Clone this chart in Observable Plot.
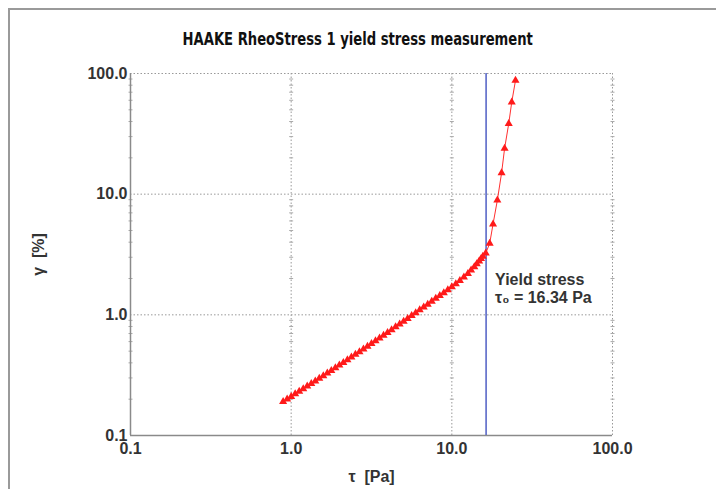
<!DOCTYPE html>
<html><head><meta charset="utf-8">
<script src="https://cdn.jsdelivr.net/npm/d3@7"></script>
<script src="https://cdn.jsdelivr.net/npm/@observablehq/plot@0.6"></script>
<style>
body{margin:0;background:#fff;}
#wrap{position:relative;width:716px;height:489px;overflow:hidden;background:#fff;}
#ftop{position:absolute;left:8px;top:8px;width:708px;height:2px;background:#9a9a9a;}
#fleft{position:absolute;left:8px;top:8px;width:2px;height:481px;background:#9a9a9a;}
#title{height:60px;box-sizing:border-box;padding-top:29px;text-align:center;line-height:20px;}
#title span{display:inline-block;transform:scaleX(0.86);font:bold 17px "Liberation Sans Narrow","DejaVu Sans Condensed",sans-serif;color:#111;white-space:nowrap;}
</style></head><body>
<div id="wrap"><div id="ftop"></div><div id="fleft"></div>
<div id="title"><span>HAAKE RheoStress 1 yield stress measurement</span></div>
<div id="chart"></div></div>
<script>
// shear stress τ [Pa]
const tau = [0.891,0.944,1.000,1.059,1.122,1.189,1.259,1.334,1.413,1.496,1.585,1.679,1.778,1.884,1.995,2.113,2.239,2.371,2.512,2.661,2.818,2.985,3.162,3.350,3.548,3.758,3.981,4.217,4.467,4.732,5.012,5.309,5.623,5.957,6.310,6.683,7.079,7.499,7.943,8.414,8.913,9.441,10.00,10.59,11.22,11.89,12.59,13.18,13.80,14.29,14.79,15.20,15.60,16.26,17.2,18.05,19.2,20.4,21.3,22.6,23.6,24.9];
// deformation γ [%]
const gamma = [0.191,0.200,0.210,0.221,0.232,0.243,0.256,0.269,0.282,0.297,0.312,0.328,0.345,0.363,0.382,0.402,0.423,0.445,0.469,0.493,0.520,0.548,0.577,0.608,0.641,0.676,0.712,0.751,0.793,0.836,0.882,0.931,0.983,1.038,1.096,1.157,1.222,1.291,1.365,1.44,1.52,1.61,1.70,1.80,1.92,2.05,2.19,2.34,2.50,2.64,2.79,2.92,3.05,3.25,3.9,5.65,8.9,15.0,23.9,38.4,57.9,87.5];
const yieldStress = 16.34;
const annotGamma = 1.67;
const annotText = "Yield stress\nτ\u2080 = 16.34 Pa";
const xTicks = [0.1, 1, 10, 100];
const yTicks = [0.1, 1, 10, 100];
const yMinor = [0.2,0.3,0.4,0.5,0.6,0.7,0.8,0.9,2,3,4,5,6,7,8,9,20,30,40,50,60,70,80,90];

const data = tau.map((t, i) => ({tau: t, gamma: gamma[i]}));
const minorTick = {draw(ctx, size){ const r = Math.sqrt(size/Math.PI); ctx.moveTo(-r,0); ctx.lineTo(r,0);} };
const fmt = d3.format(".1f");

const chart = Plot.plot({
  width: 716, height: 429,
  marginTop: 13, marginBottom: 54, marginLeft: 130, marginRight: 104,
  style: {fontFamily: "'Liberation Sans', Arial, sans-serif", fontSize: "16px", fontWeight: "bold", color: "#333", background: "transparent"},
  x: {type: "log", domain: [0.1, 100]},
  y: {type: "log", domain: [0.1, 100]},
  marks: [
    Plot.gridX(xTicks.slice(1), {stroke: "#999", strokeOpacity: 1, strokeDasharray: "1.5,2"}),
    Plot.gridY(yTicks.slice(1), {stroke: "#999", strokeOpacity: 1, strokeDasharray: "1.5,2"}),
    Plot.dot(d3.cross(xTicks, yMinor), {x: d => d[0], y: d => d[1], symbol: minorTick, r: 2, stroke: "#aaa", strokeWidth: 1}),
    Plot.ruleX([0.1], {stroke: "#8a8a8a", strokeWidth: 1.5}),
    Plot.ruleY([0.1], {stroke: "#8a8a8a", strokeWidth: 1.5}),
    Plot.ruleX([yieldStress], {stroke: "#5a68c8", strokeWidth: 1.6}),
    Plot.line(data, {x: "tau", y: "gamma", stroke: "#ff3030", strokeWidth: 1}),
    Plot.dot(data, {x: "tau", y: "gamma", symbol: "triangle", r: 3, fill: "#ff1a1a", stroke: null}),
    Plot.text([{tau: yieldStress, gamma: annotGamma, label: annotText}], {x: "tau", y: "gamma", text: "label", textAnchor: "start", lineAnchor: "middle", dx: 9, lineHeight: 1.15, fontSize: 16, fontWeight: "bold", fill: "#333"}),
    Plot.axisX(xTicks, {tickFormat: fmt, tickSize: 0, tickPadding: 7, fill: "#333", label: "τ\u00a0\u00a0[Pa]", labelArrow: "none", labelAnchor: "center", labelOffset: 46}),
    Plot.axisY(yTicks, {tickFormat: fmt, tickSize: 0, tickPadding: 3, fill: "#333", label: "γ\u00a0\u00a0[%]", labelArrow: "none", labelAnchor: "center", labelOffset: 98})
  ]
});
document.getElementById("chart").appendChild(chart);
</script>
</body></html>
